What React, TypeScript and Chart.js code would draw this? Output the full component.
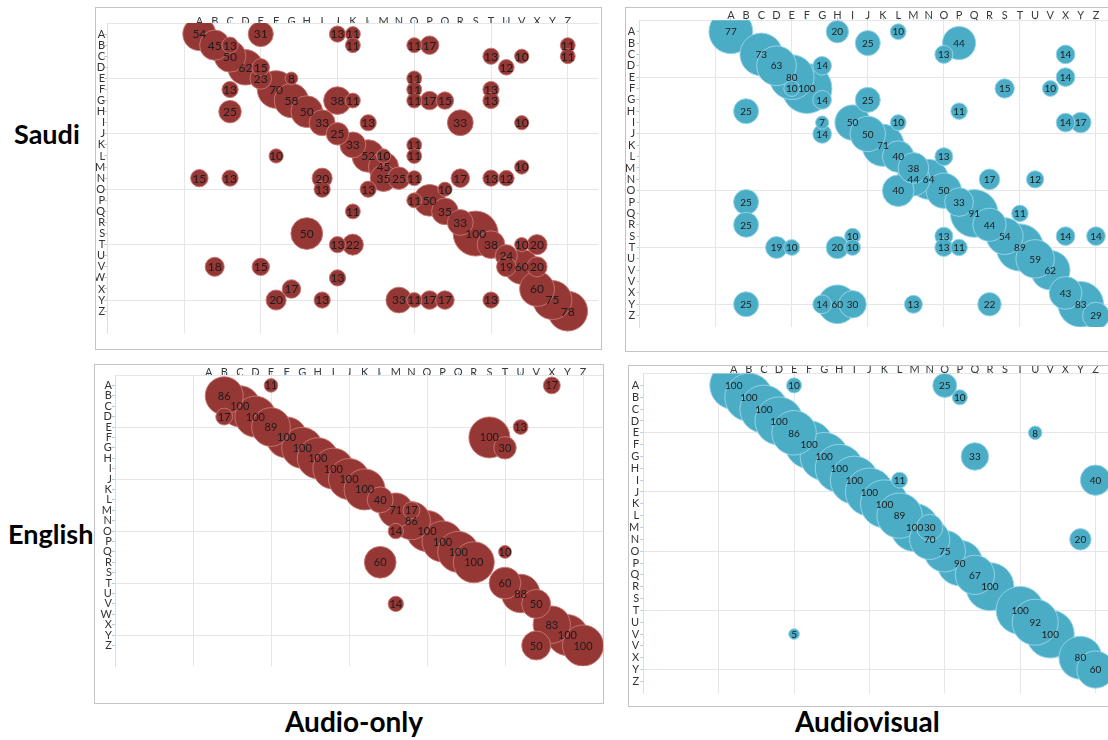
import React, { useEffect, useRef } from 'react';
import { Chart, registerables } from 'chart.js';

Chart.register(...registerables);

// ---------- tick labels ----------
const xLetters = ['A','B','C','D','E','F','G','H','I','J','K','L','M','N','O','P','Q','R','S','T','U','V','X','Y','Z'];
const rowKeys = ['A','B','C','D','E','F','G','H','I','J','K','L','M','N','O','P','Q','R','S','T','U','V','W','X','Y','Z'];
const yLabelsLeft = ['A','B','C','D','E','F','G','H','I','J','K','L','M','N','O','P','Q','R','S','T','U','V','W','X','Y','Z'];
const yLabelsRight = ['A','B','C','D','E','F','G','H','I','J','K','L','M','N','O','P','Q','R','S','T','U','V','V','X','Y','Z'];

type Cell = [string, string, number]; // [column, row, percent]

// ---------- data ----------
const saudiAudioOnly: Cell[] = [
  ['A','A',54],['E','A',31],['J','A',13],['K','A',11],
  ['B','B',45],['C','B',13],['K','B',11],['O','B',11],['P','B',17],['Z','B',11],
  ['C','C',50],['T','C',13],['V','C',10],['Z','C',11],
  ['D','D',62],['E','D',15],['U','D',12],
  ['E','E',23],['G','E',8],['O','E',11],
  ['C','F',13],['F','F',70],['O','F',11],['T','F',13],
  ['G','G',58],['J','G',38],['K','G',11],['O','G',11],['P','G',17],['Q','G',15],['T','G',13],
  ['C','H',25],['H','H',50],
  ['I','I',33],['L','I',13],['R','I',33],['V','I',10],
  ['J','J',25],
  ['K','K',33],['O','K',11],
  ['F','L',10],['L','L',52],['M','L',10],['O','L',11],
  ['M','M',45],['V','M',10],
  ['A','N',15],['C','N',13],['I','N',20],['M','N',35],['N','N',25],['O','N',11],['R','N',17],['T','N',13],['U','N',12],
  ['I','O',13],['L','O',13],['Q','O',10],
  ['O','P',11],['P','P',50],
  ['K','Q',11],['Q','Q',35],
  ['R','R',33],
  ['H','S',50],['S','S',100],
  ['J','T',13],['K','T',22],['T','T',38],['V','T',10],['X','T',20],
  ['U','U',24],
  ['B','V',18],['E','V',15],['U','V',19],['V','V',60],['X','V',20],
  ['J','W',13],
  ['G','X',17],['X','X',60],
  ['F','Y',20],['I','Y',13],['N','Y',33],['O','Y',11],['P','Y',17],['Q','Y',17],['T','Y',13],['Y','Y',75],
  ['Z','Z',78],
];

const saudiAudiovisual: Cell[] = [
  ['A','A',77],['H','A',20],['L','A',10],
  ['J','B',25],['P','B',44],
  ['C','C',73],['O','C',13],['X','C',14],
  ['D','D',63],['G','D',14],
  ['E','E',80],['X','E',14],
  ['E','F',10],['F','F',100],['S','F',15],['V','F',10],
  ['G','G',14],['J','G',25],
  ['B','H',25],['P','H',11],
  ['G','I',7],['I','I',50],['L','I',10],['X','I',14],['Y','I',17],
  ['G','J',14],['J','J',50],
  ['K','K',71],
  ['L','L',40],['O','L',13],
  ['M','M',38],
  ['M','N',44],['N','N',64],['R','N',17],['U','N',12],
  ['L','O',40],['O','O',50],
  ['B','P',25],['P','P',33],
  ['Q','Q',91],['T','Q',11],
  ['B','R',25],['R','R',44],
  ['I','S',10],['O','S',13],['S','S',54],['X','S',14],['Z','S',14],
  ['D','T',19],['E','T',10],['H','T',20],['I','T',10],['O','T',13],['P','T',11],['T','T',89],
  ['U','U',59],
  ['V','V',62],
  ['X','X',43],
  ['B','Y',25],['G','Y',14],['H','Y',60],['I','Y',30],['M','Y',13],['R','Y',22],['Y','Y',83],
  ['Z','Z',29],
];

const englishAudioOnly: Cell[] = [
  ['E','A',11],['X','A',17],
  ['B','B',86],
  ['C','C',100],
  ['B','D',17],['D','D',100],
  ['E','E',89],['U','E',13],
  ['F','F',100],['S','F',100],
  ['G','G',100],['T','G',30],
  ['H','H',100],
  ['I','I',100],
  ['J','J',100],
  ['K','K',100],
  ['L','L',40],
  ['M','M',71],['N','M',17],
  ['N','N',86],
  ['M','O',14],['O','O',100],
  ['P','P',100],
  ['Q','Q',100],['T','Q',10],
  ['L','R',60],['R','R',100],
  ['T','T',60],
  ['U','U',88],
  ['M','V',14],['V','V',50],
  ['X','X',83],
  ['Y','Y',100],
  ['V','Z',50],['Z','Z',100],
];

const englishAudiovisual: Cell[] = [
  ['A','A',100],['E','A',10],['O','A',25],
  ['B','B',100],['P','B',10],
  ['C','C',100],
  ['D','D',100],
  ['E','E',86],['U','E',8],
  ['F','F',100],
  ['G','G',100],['Q','G',33],
  ['H','H',100],
  ['I','I',100],['L','I',11],['Z','I',40],
  ['J','J',100],
  ['K','K',100],
  ['L','L',89],
  ['M','M',100],['N','M',30],
  ['N','N',70],['Y','N',20],
  ['O','O',75],
  ['P','P',90],
  ['Q','Q',67],
  ['R','R',100],
  ['T','T',100],
  ['U','U',92],
  ['E','V',5],['V','V',100],
  ['Y','X',80],
  ['Z','Y',60],
];

// ---------- panel layout / style ----------
type PanelSpec = {
  box: [number, number, number, number];
  area: [number, number, number, number];
  ymax: number;
  r100: number;
  cells: Cell[];
  yLabels: string[];
  fill: string;
  edge: string;
  labelSize: number;
  xPad: number;
  yPad: number;
};

const RED = '#953735';
const RED_EDGE = 'rgba(200,120,115,0.9)';
const BLUE = '#4BACC6';
const BLUE_EDGE = 'rgba(150,212,232,0.95)';
const TICK_FONT = 11;

const panels: PanelSpec[] = [
  { box: [95, 7, 507, 343], area: [107.25, 23, 598.45, 338.6], ymax: 28, r100: 22.5, cells: saudiAudioOnly, yLabels: yLabelsLeft, fill: RED, edge: RED_EDGE, labelSize: 12, xPad: -7.9, yPad: -0.9 },
  { box: [625, 7, 500, 345], area: [639.6, 20.35, 1126.4, 334.9], ymax: 27, r100: 25, cells: saudiAudiovisual, yLabels: yLabelsRight, fill: BLUE, edge: BLUE_EDGE, labelSize: 10, xPad: -5.2, yPad: 1.4 },
  { box: [94, 364, 510, 340], area: [115, 375, 614.2, 672.9], ymax: 28, r100: 20.5, cells: englishAudioOnly, yLabels: yLabelsLeft, fill: RED, edge: RED_EDGE, labelSize: 11, xPad: -6.9, yPad: 0.1 },
  { box: [628, 365, 500, 342], area: [643.35, 373.6, 1125.6, 700.3], ymax: 27, r100: 24, cells: englishAudiovisual, yLabels: yLabelsRight, fill: BLUE, edge: BLUE_EDGE, labelSize: 10, xPad: -5.3, yPad: 1.15 },
];

const bubbleLabels = {
  id: 'bubbleLabels',
  afterDatasetsDraw(chart: any, _args: any, opts: any) {
    const ctx = chart.ctx;
    const meta = chart.getDatasetMeta(0);
    const data = chart.data.datasets[0].data as any[];
    ctx.save();
    ctx.font = `${opts.size}px Lato, "Liberation Sans", sans-serif`;
    ctx.fillStyle = opts.color;
    ctx.textAlign = 'center';
    ctx.textBaseline = 'middle';
    meta.data.forEach((el: any, i: number) => {
      ctx.fillText(String(data[i].v), el.x, el.y + 0.5);
    });
    ctx.restore();
  },
};

function range(a: number, b: number) {
  const out: number[] = [];
  for (let i = a; i <= b; i++) out.push(i);
  return out;
}

function BubblePanel({ spec }: { spec: PanelSpec }) {
  const ref = useRef<HTMLCanvasElement>(null);
  const [L, T, R, B] = spec.area;
  const Wy = 24;
  const Hx = 20;
  const cx = Math.floor(L) - Wy;
  const cy = Math.floor(T) - Hx;
  const cw = Math.ceil(R) - cx;
  const ch = Math.ceil(B) - cy;

  useEffect(() => {
    const points = spec.cells
      .map(([c, r, v]) => ({
        x: xLetters.indexOf(c) + 1,
        y: rowKeys.indexOf(r) + 1,
        r: spec.r100 * Math.sqrt(v / 100),
        v,
      }))
      .sort((a, b) => b.v - a.v);

    const gridCol = '#e6e6e6';
    const tickCol = '#a9cde3';

    const chart = new Chart(ref.current as HTMLCanvasElement, {
      type: 'bubble',
      data: {
        datasets: [
          {
            data: points as any,
            backgroundColor: spec.fill,
            borderColor: spec.edge,
            borderWidth: 1,
            hoverBorderWidth: 1,
            hoverRadius: 0,
            clip: 0,
          } as any,
        ],
      },
      options: {
        responsive: false,
        animation: false,
        events: [],
        layout: {
          autoPadding: false,
          padding: { left: 0, top: 0, right: Math.ceil(R) - R, bottom: Math.ceil(B) - B },
        },
        plugins: {
          legend: { display: false },
          tooltip: { enabled: false },
          bubbleLabels: { size: spec.labelSize, color: '#1c1c1c' },
        } as any,
        scales: {
          x: {
            type: 'linear',
            position: 'top',
            min: -5,
            max: 27,
            afterBuildTicks: (s: any) => { s.ticks = range(-5, 27).map((v) => ({ value: v })); },
            afterFit: (s: any) => { s.height = T - cy; },
            ticks: {
              autoSkip: false,
              maxRotation: 0,
              padding: spec.xPad,
              color: '#3a3a3a',
              font: { family: 'Lato', size: TICK_FONT },
              callback: (v: any) => (v >= 1 && v <= 25 ? xLetters[v - 1] : v === 0 ? '' : null),
            },
            grid: {
              color: (c: any) => (c.tick && c.tick.value % 5 === 0 && c.tick.value >= 0 && c.tick.value <= 25 ? gridCol : 'rgba(0,0,0,0)'),
              tickColor: (c: any) => (c.tick && c.tick.value >= 1 && c.tick.value <= 25 ? tickCol : 'rgba(0,0,0,0)'),
              tickLength: 3,
              lineWidth: 1,
            },
            border: { display: true, color: gridCol },
          },
          y: {
            type: 'linear',
            reverse: true,
            min: 0,
            max: spec.ymax,
            afterBuildTicks: (s: any) => { s.ticks = range(0, spec.ymax).map((v) => ({ value: v })); },
            afterFit: (s: any) => { s.width = L - cx; },
            ticks: {
              autoSkip: false,
              padding: spec.yPad,
              color: '#333333',
              font: { family: 'Lato', size: TICK_FONT },
              callback: (v: any) => (v >= 1 && v <= 26 ? spec.yLabels[v - 1] : null),
            },
            grid: {
              color: (c: any) => (c.tick && c.tick.value % 5 === 0 && c.tick.value >= 5 && c.tick.value <= 25 ? gridCol : 'rgba(0,0,0,0)'),
              tickColor: (c: any) => (c.tick && c.tick.value >= 1 ? tickCol : 'rgba(0,0,0,0)'),
              tickLength: 3,
              lineWidth: 1,
            },
            border: { display: true, color: '#cfe2ee' },
          },
        },
      },
      plugins: [bubbleLabels as any],
    });
    return () => chart.destroy();
  }, []);

  const [bx, by, bw, bh] = spec.box;
  return (
    <div
      style={{
        position: 'absolute',
        left: bx,
        top: by,
        width: bw,
        height: bh,
        boxSizing: 'border-box',
        border: '1px solid #c3c3c3',
        overflow: 'hidden',
        background: '#ffffff',
      }}
    >
      <canvas
        ref={ref}
        width={cw}
        height={ch}
        style={{ position: 'absolute', left: cx - bx - 1, top: cy - by - 1, width: cw, height: ch }}
      />
    </div>
  );
}

const bigLabel: React.CSSProperties = {
  position: 'absolute',
  fontFamily: 'Lato, "Liberation Sans", sans-serif',
  fontWeight: 700,
  lineHeight: 1,
  color: '#000',
  whiteSpace: 'nowrap',
};

export default function App() {
  return (
    <div
      style={{
        position: 'fixed',
        left: 0,
        top: 0,
        width: 1108,
        height: 740,
        overflow: 'hidden',
        background: '#ffffff',
      }}
    >
      {panels.map((p, i) => (
        <BubblePanel key={i} spec={p} />
      ))}
      <div style={{ ...bigLabel, left: 14, top: 120, fontSize: 27 }}>Saudi</div>
      <div style={{ ...bigLabel, left: 8, top: 520, fontSize: 27 }}>English</div>
      <div style={{ ...bigLabel, left: 285, top: 707, fontSize: 28 }}>Audio-only</div>
      <div style={{ ...bigLabel, left: 795, top: 707, fontSize: 28 }}>Audiovisual</div>
    </div>
  );
}
